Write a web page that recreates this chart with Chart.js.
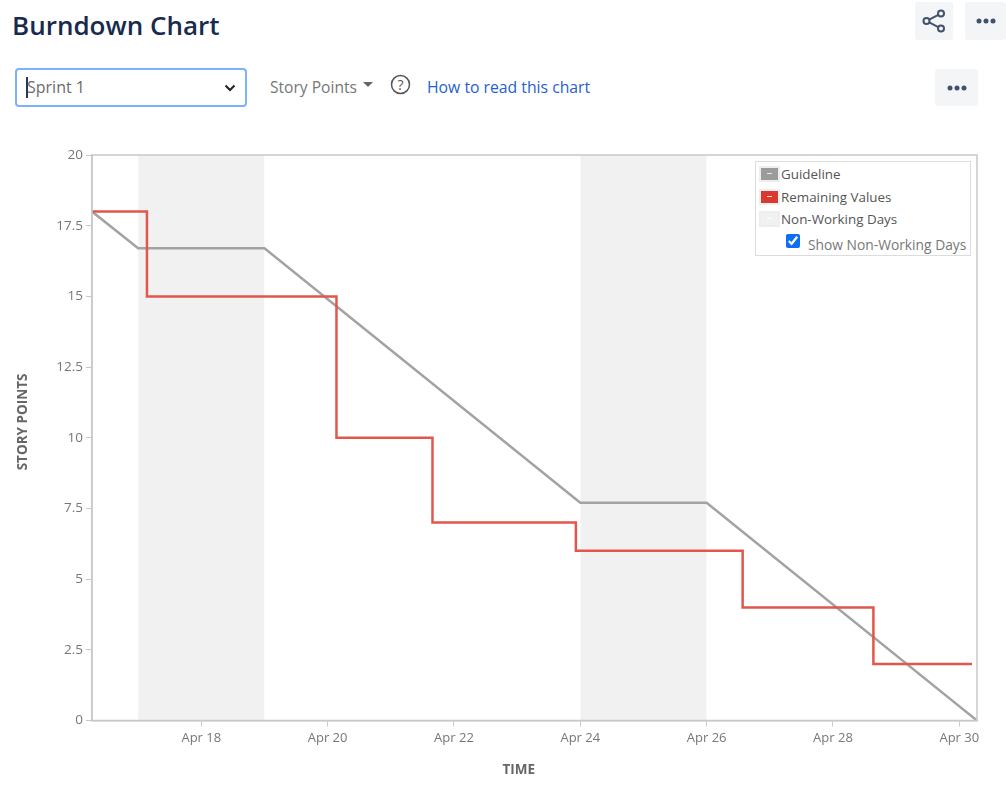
<!DOCTYPE html>
<html>
<head>
<meta charset="utf-8">
<title>Burndown Chart</title>
<script src="https://cdn.jsdelivr.net/npm/chart.js@4"></script>
<style>
    html, body { margin: 0; padding: 0; background: #fff; overflow: hidden; }
    body { width: 1006px; height: 798px; position: relative; font-family: "Open Sans", sans-serif; color: #666; }
    .abs { position: absolute; white-space: nowrap; }
    h1.abs { margin: 0; left: 12px; top: 6px; font-size: 26px; line-height: 38px; font-weight: 600; color: #172b4d; }
    .icon-btn { position: absolute; background: #f4f5f7; border-radius: 3px; display: flex; align-items: center; justify-content: center; }
    .select-box { position: absolute; left: 15px; top: 68px; width: 228px; height: 35px; border: 2px solid #7db1fb; border-radius: 4px; }
    .select-box .caret { position: absolute; left: 9px; top: 7px; width: 2px; height: 21px; background: #253858; }
    .select-box span { position: absolute; left: 10px; top: 6px; font-size: 16px; line-height: 23px; color: #6b6b6b; }
    .select-box svg { position: absolute; right: 9px; top: 14px; }
    #chart { position: absolute; left: 0; top: 130px; }
    #legend { position: absolute; left: 755px; top: 161px; width: 214px; height: 93px; border: 1px solid #dcdcdc; background: #fff; font-size: 13.4px; color: #555; }
    .row { position: absolute; left: 3px; height: 17px; line-height: 17px; white-space: nowrap; }
    .swatch { position: absolute; left: 0; top: 0; width: 17px; height: 12px; border: 2px solid #eee; }
    .swatch::after { content: ""; position: absolute; left: 6px; top: 5px; width: 5px; height: 1px; background: rgba(255,255,255,.8); }
    .row label { position: absolute; left: 22px; top: 0; }
    #showDays { position: absolute; left: 30px; top: 72px; width: 14px; height: 14px; margin: 0; accent-color: #0b6ef5; }
    #showLabel { position: absolute; left: 52px; top: 74px; font-size: 13.8px; line-height: 17px; color: #777; white-space: nowrap; }
</style>
</head>
<body>
<h1 class="abs">Burndown Chart</h1>

<div class="icon-btn" style="left:915px;top:2px;width:38px;height:38px">
    <svg width="24" height="24" viewBox="0 0 24 24" fill="none" stroke="#42526e" stroke-width="2">
        <circle cx="19" cy="4.500" r="3"/><circle cx="4.500" cy="12" r="3"/><circle cx="19" cy="19.500" r="3"/>
        <path d="M7.200 10.600 16.300 5.900M7.200 13.400 16.300 18.100"/>
    </svg>
</div>
<div class="icon-btn" style="left:965px;top:2px;width:41px;height:38px">
    <svg width="20" height="6" fill="#42526e"><circle cx="3" cy="3" r="2.500"/><circle cx="10" cy="3" r="2.500"/><circle cx="17" cy="3" r="2.500"/></svg>
</div>
<div class="icon-btn" style="left:935px;top:69px;width:43px;height:37px">
    <svg width="20" height="6" fill="#42526e"><circle cx="3" cy="3" r="2.500"/><circle cx="10" cy="3" r="2.500"/><circle cx="17" cy="3" r="2.500"/></svg>
</div>

<div class="select-box">
    <span>Sprint 1</span>
    <div class="caret"></div>
    <svg width="12" height="8" fill="none" stroke="#222" stroke-width="2"><path d="M1.500 1.500 6 6 10.500 1.500"/></svg>
</div>
<div class="abs" style="left:270px;top:76px;font-size:15.600px;line-height:22px;color:#777">Story Points</div>
<svg class="abs" style="left:363px;top:82px" width="10" height="6" fill="#666"><path d="M0 0H10L5 5Z"/></svg>
<svg class="abs" style="left:390px;top:74px" width="21" height="21" fill="none" stroke="#555" stroke-width="1.500">
    <circle cx="10.500" cy="10.500" r="9"/>
    <text x="10.500" y="15.500" text-anchor="middle" font-size="14" fill="#555" stroke="none" font-family="Open Sans">?</text>
</svg>
<div class="abs" style="left:427px;top:76px;font-size:15.750px;line-height:22px;color:#1f5fd0">How to read this chart</div>

<canvas id="chart" width="1006" height="668"></canvas>

<div id="legend">
    <div class="row" style="top:4px"><div class="swatch" style="background:#9b9b9b"></div><label id="lab0"></label></div>
    <div class="row" style="top:27px"><div class="swatch" style="background:#d9392f"></div><label id="lab1"></label></div>
    <div class="row" style="top:49px"><div class="swatch" style="background:#f1f1f1"></div><label id="lab2"></label></div>
    <input type="checkbox" id="showDays" checked>
    <div id="showLabel">Show Non-Working Days</div>
</div>

<script>
// x values are days of April (fractions are time of day)
const axisStart = 16.27;
const axisEnd = 30.28;
const tickDays = [18, 20, 22, 24, 26, 28, 30];
const yTicks = [0, 2.5, 5, 7.5, 10, 12.5, 15, 17.5, 20];

const guideDays = [axisStart, 17, 19, 24, 26, axisEnd];
const guideValues = [18, 16.7, 16.7, 7.7, 7.7, 0];

// Each value is reached at its day, the line holds the old value until then
const remainingDays = [axisStart, 17.14, 20.14, 21.66, 23.93, 26.57, 28.64, 30.2];
const remainingValues = [18, 15, 10, 7, 6, 4, 2, 2];

const weekendOne = [17, 19];
const weekendTwo = [24, 26];

const seriesNames = ['Guideline', 'Remaining Values', 'Non-Working Days'];

// The axis titles sit off centre in the original, nbsp pushes them over
const pad = (n) => '\u00a0'.repeat(n);

const toPoints = (xs, ys) => xs.map((x, i) => ({ x: x, y: ys[i] }));
const bandPoints = (days) => days.map(d => ({ x: d, y: 20 }));

// Frame around the plot, top and right have no axis of their own
const plotFrame = {
    id: 'plotFrame',
    afterDatasetsDraw(chart) {
        const a = chart.chartArea;
        const ctx = chart.ctx;
        ctx.save();
        ctx.strokeStyle = '#c8c8c8';
        ctx.lineWidth = 1.5;
        ctx.strokeRect(a.left, a.top, a.width, a.height);
        ctx.restore();
    }
};

const bandStyle = {
    label: seriesNames[2],
    borderWidth: 0,
    pointRadius: 0,
    fill: 'origin',
    backgroundColor: '#f1f1f2',
    order: 3
};

const chart = new Chart(document.getElementById('chart'), {
    type: 'line',
    data: {
        datasets: [
            {
                label: seriesNames[0],
                data: toPoints(guideDays, guideValues),
                borderColor: '#a3a3a3',
                borderWidth: 2.5,
                pointRadius: 0,
                tension: 0,
                order: 2
            },
            {
                label: seriesNames[1],
                data: toPoints(remainingDays, remainingValues),
                borderColor: '#e2574c',
                borderWidth: 2.5,
                pointRadius: 0,
                stepped: 'before',
                order: 1
            },
            Object.assign({ data: bandPoints(weekendOne) }, bandStyle),
            Object.assign({ data: bandPoints(weekendTwo) }, bandStyle)
        ]
    },
    options: {
        responsive: false,
        animation: false,
        layout: { padding: { top: 25, right: 29 } },
        plugins: {
            legend: { display: false },
            title: { display: false }
        },
        scales: {
            x: {
                type: 'linear',
                min: axisStart,
                max: axisEnd,
                afterBuildTicks: function(scale) {
                    scale.ticks = tickDays.map(d => ({ value: d }));
                },
                afterFit: function(scale) {
                    scale.height = 77.5;
                },
                border: { color: '#c8c8c8', width: 1.5 },
                grid: { drawOnChartArea: false, color: '#c8c8c8', tickLength: 6 },
                ticks: {
                    maxRotation: 0,
                    padding: 4,
                    color: '#777',
                    font: { family: 'Open Sans', size: 13 },
                    callback: function(value) {
                        return 'Apr ' + value;
                    }
                },
                title: {
                    display: true,
                    text: 'TIME' + pad(9),
                    color: '#666',
                    padding: { top: 0, bottom: 20 },
                    font: { family: 'Open Sans', size: 13.5, weight: 'bold' }
                }
            },
            y: {
                min: 0,
                max: 20,
                afterBuildTicks: function(scale) {
                    scale.ticks = yTicks.map(v => ({ value: v }));
                },
                afterFit: function(scale) {
                    scale.width = 92;
                },
                border: { color: '#c8c8c8', width: 1.5 },
                grid: { drawOnChartArea: false, color: '#c8c8c8', tickLength: 6 },
                ticks: {
                    padding: 3,
                    color: '#777',
                    font: { family: 'Open Sans', size: 13.5 }
                },
                title: {
                    display: true,
                    text: pad(9) + 'STORY POINTS',
                    color: '#666',
                    padding: { top: 15, bottom: 0 },
                    font: { family: 'Open Sans', size: 13.5, weight: 'bold' }
                }
            }
        }
    },
    plugins: [plotFrame]
});

seriesNames.forEach((name, i) => {
    document.getElementById('lab' + i).textContent = name;
});

// Checkbox shows or hides the two weekend bands
document.getElementById('showDays').addEventListener('change', function(e) {
    chart.setDatasetVisibility(2, e.target.checked);
    chart.setDatasetVisibility(3, e.target.checked);
    chart.update();
});
</script>
</body>
</html>
